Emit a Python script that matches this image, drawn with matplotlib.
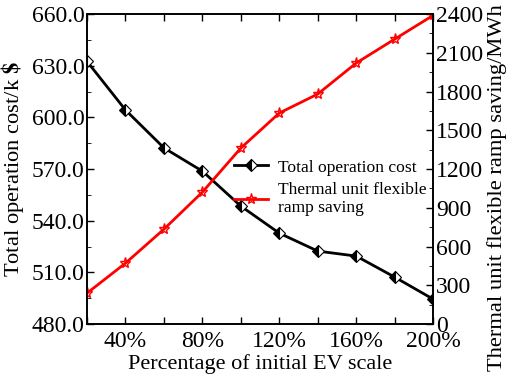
import matplotlib
matplotlib.use("Agg")
import matplotlib.pyplot as plt
from matplotlib.ticker import MultipleLocator

scale = [20, 40, 60, 80, 100, 120, 140, 160, 180, 200]
cost = [632.5, 604.3, 582.3, 568.8, 548.5, 532.8, 522.4, 519.5, 507.3, 494.5]
ramp = [240, 472, 735, 1022, 1363, 1634, 1781, 2021, 2206, 2390]

plt.rcParams["font.family"] = ["Liberation Serif", "DejaVu Serif"]
plt.rcParams["mathtext.fontset"] = "stix"

fig = plt.figure(figsize=(5.12, 3.8), dpi=100)
ax = fig.add_axes([0.170, 0.147, 0.676, 0.816])
ax2 = ax.twinx()

l1, = ax.plot(scale, cost, color="black", lw=2, marker="D", markersize=6,
              fillstyle="left", markerfacecolor="black", markerfacecoloralt="white",
              markeredgecolor="black", markeredgewidth=0.8, label="Total operation cost")
l2, = ax2.plot(scale, ramp, color="red", lw=2, marker="*", markersize=8,
               markerfacecolor="none", markeredgecolor="red", markeredgewidth=1,
               label="Thermal unit flexible\nramp saving")

ax.set_xlim(20, 200)
ax.set_ylim(480, 660)
ax2.set_ylim(0, 2400)

ax.set_xticks(scale)
ax.set_xticklabels([f"{v}%" if v % 40 == 0 else "" for v in scale])
ax.yaxis.set_major_locator(MultipleLocator(30))
ax.yaxis.set_minor_locator(MultipleLocator(15))
ax.set_yticklabels([f"{v:.1f}" for v in ax.get_yticks()])
ax2.yaxis.set_major_locator(MultipleLocator(300))
ax2.yaxis.set_minor_locator(MultipleLocator(150))

ax.tick_params(axis="both", direction="in", labelsize=17, length=5, width=1, top=True)
ax.tick_params(axis="x", pad=5)
ax.tick_params(axis="y", pad=2)
ax.tick_params(axis="y", which="minor", direction="in", length=3)
ax2.tick_params(axis="y", direction="in", labelsize=17, length=5, width=1, pad=2)
ax2.tick_params(axis="y", which="minor", direction="in", length=3)
for a in (ax, ax2):
    for s in a.spines.values():
        s.set_linewidth(1.2)

ax.set_xlabel("Percentage of initial EV scale", fontsize=16)
ax.set_ylabel(r"Total operation cost/k $\mathbf{\$}$", fontsize=16.2)
ax2.set_ylabel("Thermal unit flexible ramp saving/MWh", fontsize=16.2)
ax.xaxis.set_label_coords(0.5, -0.097)
ax.yaxis.set_label_coords(-0.176, 0.5)
ax2.yaxis.set_label_coords(1.156, 0.44)

ax.legend([l1, l2], [l1.get_label(), l2.get_label()], loc="center right",
          bbox_to_anchor=(1.0, 0.44), frameon=False, fontsize=12.6,
          handlelength=1.95, handletextpad=0.6, borderaxespad=0.0, borderpad=0.35,
          labelspacing=0.35)

fig.savefig("out.png", dpi=100)
